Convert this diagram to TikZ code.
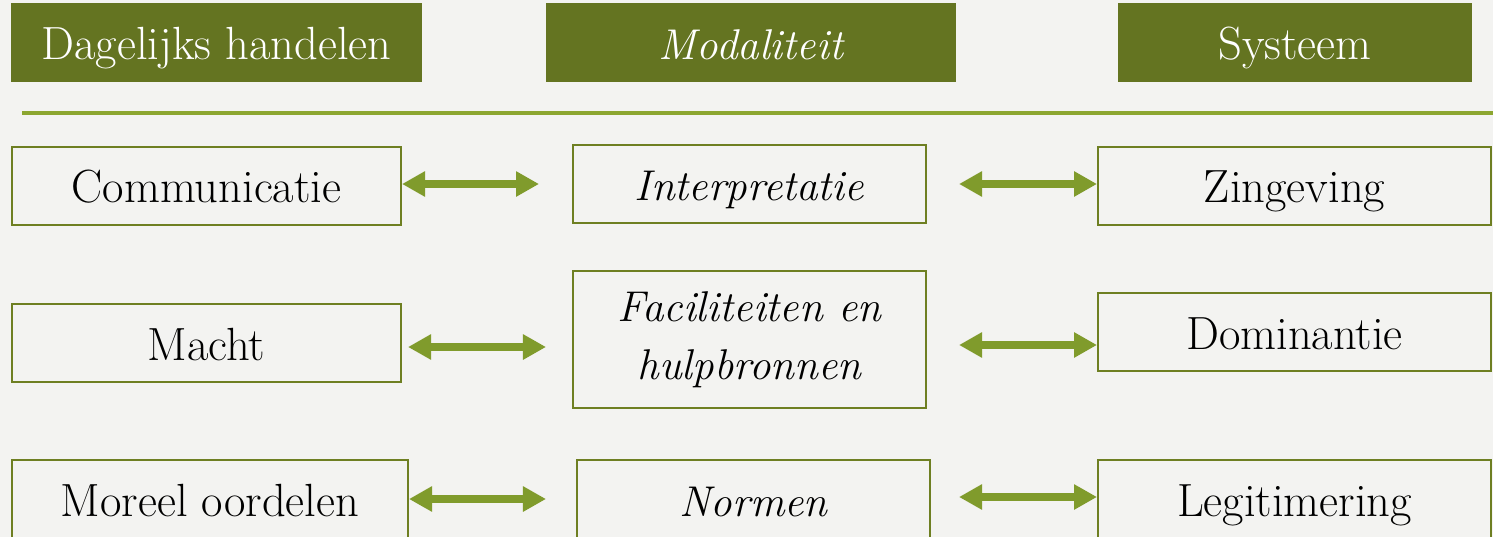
\documentclass[tikz,border=0pt]{standalone}
\usetikzlibrary{arrows.meta}
\definecolor{headgreen}{RGB}{100,116,33}
\definecolor{boxgreen}{RGB}{110,127,34}
\definecolor{arrowgreen}{RGB}{128,155,44}
\definecolor{linegreen}{RGB}{140,166,48}
\definecolor{bgcol}{RGB}{243,243,241}
\begin{document}
\begin{tikzpicture}
[   x=0.02cm, y=-0.02cm,
    hbox/.style={fill=headgreen,text=white,minimum width=#1,minimum height=1.58cm,inner sep=0pt,
        text height=0.8cm,text depth=0.12cm,font=\fontsize{26.5}{33}\selectfont},
    tbox/.style={draw=boxgreen,line width=1.2pt,minimum width=#1,minimum height=1.56cm,inner sep=0pt,
        text height=0.8cm,text depth=0.12cm,font=\fontsize{26.5}{33}\selectfont},
    itbox/.style={tbox=#1,font=\fontsize{24.5}{33}\selectfont\itshape},
    dblarrow/.style={draw=arrowgreen,line width=0.15cm,
        {Triangle[length=0.46cm,width=0.48cm]}-{Triangle[length=0.46cm,width=0.48cm]}},
]
    % page
    \fill[bgcol] (0,0) rectangle (1493,537);
    \useasboundingbox (0,0) rectangle (1493,537);
    %
    \node[hbox=8.22cm] (hd-1) at (216.5,42.5) {Dagelijks handelen};
    \node[hbox=8.2cm,font=\fontsize{24.5}{33}\selectfont\itshape] (hd-2) at (751,42.5) {Modaliteit};
    \node[hbox=7.08cm] (hd-3) at (1295,42.5) {Systeem};
    \draw[linegreen,line width=2.2pt] (22,113) -- (1493,113);

    \node[tbox=7.78cm] (comm) at (206.5,186) {Communicatie};
    \node[itbox=7.06cm] (interp) at (749.5,184) {Interpretatie};
    \node[tbox=7.86cm] (zing) at (1294.5,186) {Zingeving};

    \node[tbox=7.78cm] (macht) at (206.5,343) {Macht};
    \node[draw=boxgreen,line width=1.2pt,minimum width=7.06cm,minimum height=2.74cm,align=center,
        font=\fontsize{24.5}{33}\selectfont\itshape] (facil) at (749.5,339.5) {Faciliteiten en\\hulpbronnen};
    \node[tbox=7.86cm] (domin) at (1294.5,332) {Dominantie};

    \node[tbox=7.92cm] (moreel) at (210,499) {Moreel oordelen};
    \node[itbox=7.06cm] (normen) at (753.5,499) {Normen};
    \node[tbox=7.86cm] (legit) at (1294.5,499) {Legitimering};

    \foreach \a/\b/\s/\t/\dy in {comm/interp/0/0.66/0.04, interp/zing/0.64/0/0, macht/facil/0.12/0.52/-0.08,
        facil/domin/0.64/0/-0.11, moreel/normen/0/0.6/0, normen/legit/0.56/0/0.04}
    {
        \draw[dblarrow,shorten <=\s cm,shorten >=\t cm]
            ([yshift=\dy cm]\a.east) -- ([yshift=\dy cm]\a.east -| \b.west);
    }
\end{tikzpicture}
\end{document}
